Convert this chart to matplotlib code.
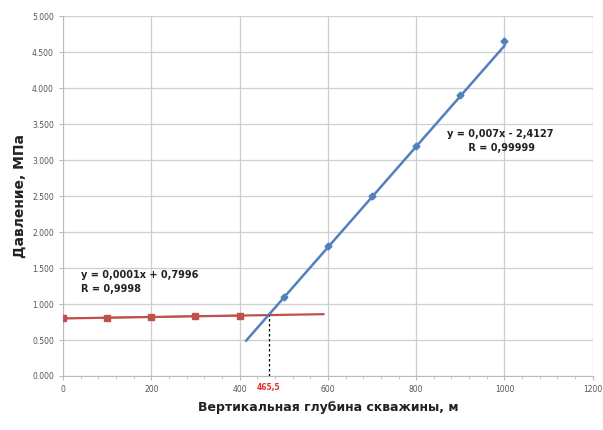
import numpy as np
import matplotlib
matplotlib.use('Agg')
import matplotlib.pyplot as plt
from matplotlib.ticker import FuncFormatter, MultipleLocator

# upper part of the well (gas column)
depth_top = [0, 100, 200, 300, 400]
press_top = [0.80, 0.81, 0.82, 0.83, 0.84]

# lower part (liquid column)
depth_bot = [500, 600, 700, 800, 900, 1000]
press_bot = [1.10, 1.80, 2.50, 3.20, 3.91, 4.65]

fit_top = (0.0001, 0.7996)
fit_bot = (0.007, -2.4127)
cross_x = 465.5

red = '#C0504D'
blue = '#4F81BD'


def main():
    fig = plt.figure(figsize=(6.03, 4.30), dpi=100)
    ax = fig.add_axes([0.1045, 0.1256, 0.8785, 0.837])

    # trend lines
    xt = np.array([0, 590])
    ax.plot(xt, fit_top[0] * xt + fit_top[1], color=red, lw=1.6, zorder=3)
    xb = np.array([415, 1000])
    ax.plot(xb, fit_bot[0] * xb + fit_bot[1], color=blue, lw=1.8, zorder=3)

    ax.plot(depth_top, press_top, color=red, lw=1.2, marker='s', ms=5, zorder=4)
    ax.plot(depth_bot, press_bot, color=blue, lw=0, marker='D', ms=3.5, zorder=4)

    yc = fit_top[0] * cross_x + fit_top[1]
    ax.plot([cross_x, cross_x], [0, yc], color='black', lw=0.9, ls=(0, (2, 2)), zorder=5)
    ax.text(cross_x, -0.1, '465,5', color='#E03030', fontsize=5.5, fontweight='bold',
            ha='center', va='top')

    ax.text(40, 1.30, 'y = 0,0001x + 0,7996\nR = 0,9998', fontsize=7, fontweight='bold',
            ha='left', va='center', linespacing=1.5, color='#222222')
    ax.text(990, 3.26, 'y = 0,007x - 2,4127\n R = 0,99999', fontsize=7, fontweight='bold',
            ha='center', va='center', linespacing=1.5, color='#222222')

    ax.set_xlim(0, 1200)
    ax.set_ylim(0, 5)
    ax.xaxis.set_major_locator(MultipleLocator(200))
    ax.xaxis.set_minor_locator(MultipleLocator(40))
    ax.yaxis.set_major_locator(MultipleLocator(0.5))
    ax.yaxis.set_major_formatter(FuncFormatter(lambda v, p: '%.3f' % v))
    ax.grid(True, which='major', color='#CFCFCF', lw=0.9)
    ax.set_axisbelow(True)
    for s in ['top', 'right']:
        ax.spines[s].set_visible(False)
    for s in ['left', 'bottom']:
        ax.spines[s].set_color('#BBBBBB')
    ax.tick_params(axis='both', which='major', labelsize=5.5, labelcolor='#555555',
                   color='#BBBBBB', length=3)
    ax.tick_params(axis='x', which='minor', color='#BBBBBB', length=2)

    ax.set_xlabel('Вертикальная глубина скважины, м', fontsize=9, fontweight='bold',
                  labelpad=5, color='#222222')
    ax.set_ylabel('Давление, МПа', fontsize=10, fontweight='bold', labelpad=4,
                  color='#222222')

    fig.savefig('out.png', dpi=100)


if __name__ == "__main__":
    main()
